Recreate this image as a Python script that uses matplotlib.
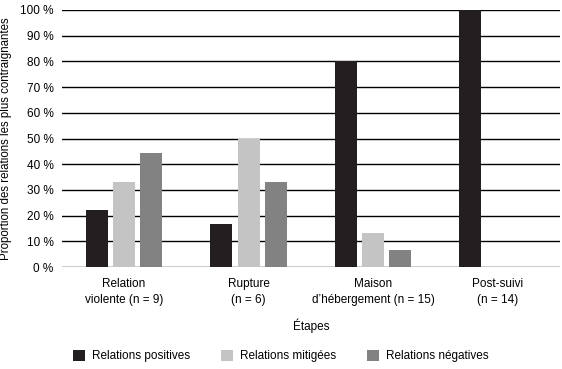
import numpy as np
import matplotlib.pyplot as plt
from matplotlib.ticker import FuncFormatter

plt.rcParams['font.family'] = ['Liberation Sans', 'DejaVu Sans']

etapes = ["Relation\nviolente (n = 9)", "Rupture\n(n = 6)",
          "Maison\nd\u2019h\u00e9bergement (n = 15)", "Post-suivi\n(n = 14)"]
positives = [22.2, 16.7, 80.0, 100.0]
mitigees = [33.3, 50.0, 13.3, 0.0]
negatives = [44.4, 33.3, 6.7, 0.0]
series = ["Relations positives", "Relations mitig\u00e9es", "Relations n\u00e9gatives"]
colors = ["#231f20", "#c4c4c4", "#828282"]

fig = plt.figure(figsize=(5.62, 3.69), dpi=100)
ax = fig.add_axes([0.110, 0.276, 0.886, 0.697])

x = np.arange(len(etapes))
w = 0.177
step = 0.22
for i, (vals, lab, c) in enumerate(zip([positives, mitigees, negatives], series, colors)):
    ax.bar(x + (i - 1) * step, vals, w, color=c, label=lab, zorder=3)

fs = 8.5
ax.set_ylim(0, 100)
ax.set_xlim(-0.5, 3.5)
ax.set_yticks(np.arange(0, 101, 10))
ax.yaxis.set_major_formatter(FuncFormatter(lambda v, p: "%d %%" % v))
ax.grid(axis='y', color='black', linewidth=1.0, zorder=0)
ax.set_xticks(x)
ax.set_xticklabels(etapes, fontsize=fs, linespacing=1.4)
ax.tick_params(axis='both', length=0, labelsize=fs)
ax.tick_params(axis='x', pad=8)
ax.tick_params(axis='y', pad=6)
for s in ax.spines.values():
    s.set_visible(False)
ax.set_ylabel("Proportion des relations les plus contraignantes", fontsize=8.3, labelpad=6)
ax.set_xlabel("\u00c9tapes", fontsize=fs, labelpad=9)

ax.legend(loc='center', bbox_to_anchor=(0.44, -0.346), ncol=3, frameon=False,
          fontsize=fs, handlelength=1.0, handleheight=1.0, columnspacing=2.6,
          handletextpad=0.6)

plt.savefig("out.png", dpi=100)
